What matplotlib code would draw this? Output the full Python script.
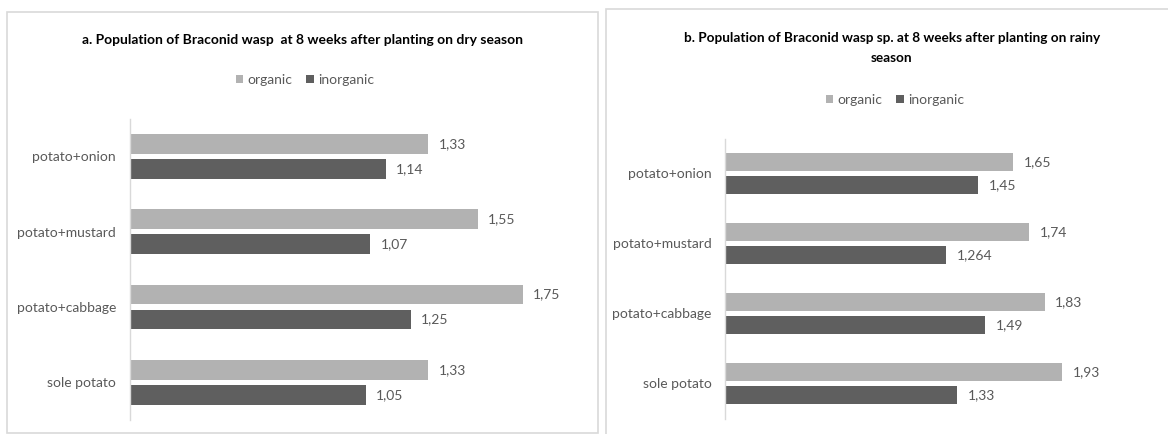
import matplotlib
matplotlib.use("Agg")
import matplotlib.pyplot as plt
from matplotlib.patches import Rectangle, Patch
from matplotlib import font_manager

names = {f.name for f in font_manager.fontManager.ttflist}
FONT = "Liberation Sans Narrow" if "Liberation Sans Narrow" in names else "Lato"
plt.rcParams['font.family'] = [FONT, 'DejaVu Sans']

categories = ["potato+onion", "potato+mustard", "potato+cabbage", "sole potato"]
series = ["organic", "inorganic"]
a_organic = [1.33, 1.55, 1.75, 1.33]
a_inorganic = [1.14, 1.07, 1.25, 1.05]
b_organic = [1.65, 1.74, 1.83, 1.93]
b_inorganic = [1.45, 1.264, 1.49, 1.33]
title_a = "a. Population of Braconid wasp  at 8 weeks after planting on dry season"
title_b = "b. Population of Braconid wasp sp. at 8 weeks after planting on rainy\nseason"

C_ORG = "#B2B2B2"
C_INORG = "#5F5F5F"
TXT = "#595959"
BORDER = "#D9D9D9"

W, H = 1168, 434
fig = plt.figure(figsize=(W / 100, H / 100), dpi=100)

def fx(px):
    return px / W

def fy(py):
    return (H - py) / H

def draw_panel(left, right, top, bottom, xmax, org, inorg, lab_size):
    ax = fig.add_axes([fx(left), fy(bottom), fx(right - left), (bottom - top) / H])
    n = len(categories)
    ys = [n - 1 - i for i in range(n)]
    h = 0.262
    off = 0.165
    b1 = ax.barh([y + off for y in ys], org, height=h, color=C_ORG)
    b2 = ax.barh([y - off for y in ys], inorg, height=h, color=C_INORG)
    for bars, vals in ((b1, org), (b2, inorg)):
        labels = [f"{v:g}".replace('.', ',') for v in vals]
        ax.bar_label(bars, labels=labels, padding=7.5, color=TXT, fontsize=lab_size)
    ax.set_xlim(0, xmax)
    ax.set_ylim(-0.5, n - 0.5)
    ax.set_yticks(ys)
    ax.set_yticklabels(categories, color=TXT, fontsize=lab_size)
    ax.tick_params(axis='y', length=0, pad=10)
    ax.set_xticks([])
    for s in ("top", "right", "bottom"):
        ax.spines[s].set_visible(False)
    ax.spines["left"].set_color(BORDER)
    ax.spines["left"].set_linewidth(1)
    ax.patch.set_visible(False)
    return ax

# panel borders
fig.add_artist(Rectangle((fx(7), fy(432.5)), fx(590.7), (432.5 - 12.3) / H,
                         transform=fig.transFigure, fill=False, edgecolor=BORDER, lw=1.2))
fig.add_artist(Rectangle((fx(605.7), -0.05), fx(600), fy(8.7) + 0.05,
                         transform=fig.transFigure, fill=False, edgecolor=BORDER, lw=1.2))

LAB = 10
draw_panel(130, 578.8, 118.7, 420, 2.0, a_organic, a_inorganic, LAB)
draw_panel(725.4, 1161.6, 138.5, 418.5, 2.5, b_organic, b_inorganic, LAB)

fig.text(fx(302.5), fy(40), title_a, ha='center', va='center', fontsize=10,
         fontweight='bold', color='#000000')
fig.text(fx(892), fy(48), title_b, ha='center', va='center', fontsize=9.8,
         fontweight='bold', color='#000000', linespacing=1.75, multialignment='center')

handles = [Patch(facecolor=C_ORG, edgecolor='none'), Patch(facecolor=C_INORG, edgecolor='none')]
for cx, cy in ((305, 80), (895, 100)):
    fig.legend(handles, series, loc='center', bbox_to_anchor=(fx(cx), fy(cy)),
               ncol=2, frameon=False, fontsize=LAB, labelcolor=TXT,
               handlelength=0.55, handleheight=0.55, handletextpad=0.3,
               columnspacing=1.0, borderpad=0)

fig.savefig("out.png", dpi=100, facecolor='white')
